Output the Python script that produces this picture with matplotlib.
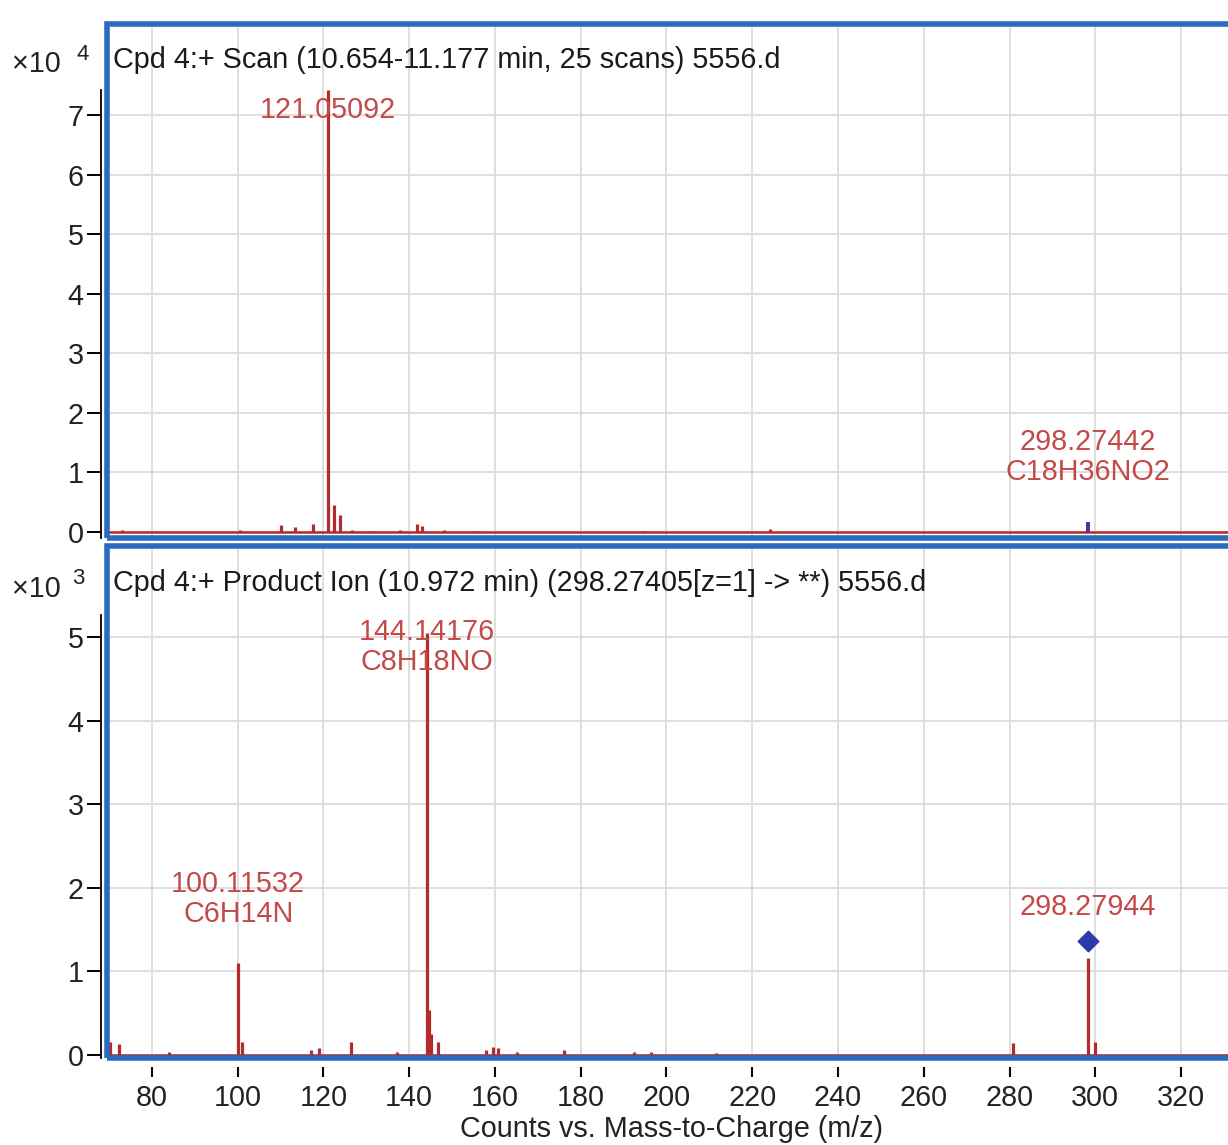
import matplotlib
matplotlib.use("Agg")
import matplotlib.pyplot as plt
from matplotlib.patches import Rectangle
from matplotlib.ticker import FixedLocator, FuncFormatter

plt.rcParams['font.family'] = ['Liberation Sans', 'DejaVu Sans']

# ---------------- data ----------------
# Top panel: MS scan (counts)
top_mz = [73.0, 100.5, 110.0, 113.3, 117.6, 121.05092, 122.4, 123.8, 126.6,
          131.6, 137.8, 141.7, 142.9, 148.2, 155.0, 194.5, 224.1]
top_int = [300, 300, 1100, 800, 1300, 74200, 4500, 2800, 400,
           200, 400, 1400, 1000, 300, 200, 150, 500]
top_prec_mz = [298.27442]
top_prec_int = [1700]

# Bottom panel: product ion scan (counts)
bot_mz = [70.3, 72.4, 83.9, 100.11532, 101.1, 117.0, 118.9, 126.4, 137.2,
          144.14176, 144.6, 145.0, 146.7, 158.0, 159.5, 160.6, 165.1, 176.1,
          192.5, 196.5, 211.6, 280.9, 298.27944, 300.0]
bot_int = [160, 130, 40, 1100, 160, 60, 80, 160, 30,
           5050, 540, 250, 150, 60, 100, 80, 30, 60,
           30, 30, 20, 140, 1160, 150]
diamond_mz = [298.27944]
diamond_int = [1360]

top_labels = [("121.05092", 121.05092, 70800), ("298.27442\nC18H36NO2", 298.27442, 12600)]
bot_labels = [("144.14176\nC8H18NO", 144.14176, 4880), ("100.11532\nC6H14N", 100.11532, 1870),
              ("298.27944", 298.27944, 1770)]

x_ticks = [80, 100, 120, 140, 160, 180, 200, 220, 240, 260, 280, 300, 320]
top_yticks = [0, 10000, 20000, 30000, 40000, 50000, 60000, 70000]
bot_yticks = [0, 1000, 2000, 3000, 4000, 5000]

titles = ["Cpd 4:+ Scan (10.654-11.177 min, 25 scans) 5556.d",
          "Cpd 4:+ Product Ion (10.972 min) (298.27405[z=1] -> **) 5556.d"]
xlabel = "Counts vs. Mass-to-Charge (m/z)"

# ---------------- style ----------------
W, H = 1228, 1145
RED = '#b52a2a'
LABEL = '#c24a48'
BLUE = '#2a6bbf'
GRID = '#dcdcdc'
FS = 20.7

fig = plt.figure(figsize=(W / 100, H / 100), dpi=100)
fig.patch.set_facecolor('white')

left = 106.5 / W
width = (1240 - 106.5) / W
ax1 = fig.add_axes([left, 1 - 537.5 / H, width, 514 / H])
ax2 = fig.add_axes([left, 1 - 1058 / H, width, 512.5 / H])

xlim = (69.39, 333.76)
ax1.set_ylim(-923, 85360)
ax2.set_ylim(-35.9, 6094)

for ax, yt, scale, bound_hi in [(ax1, top_yticks, 1e4, 74200), (ax2, bot_yticks, 1e3, 5260)]:
    ax.set_xlim(*xlim)
    for s in ['top', 'right']:
        ax.spines[s].set_visible(False)
    ax.spines['left'].set_position(('outward', 4))
    ax.spines['left'].set_color('black')
    ax.spines['left'].set_linewidth(1.3)
    ax.spines['left'].set_bounds(ax.get_ylim()[0], bound_hi)
    ax.yaxis.set_major_locator(FixedLocator(yt))
    ax.yaxis.set_major_formatter(FuncFormatter(lambda v, p, s=scale: f"{v / s:g}"))
    ax.xaxis.set_major_locator(FixedLocator(x_ticks))
    ax.tick_params(axis='y', direction='out', length=10, width=1.4, color='black',
                   pad=2.5, labelsize=FS, labelcolor='#222222')
    ax.grid(True, color=GRID, lw=1.3)
    ax.set_axisbelow(True)
    ax.axhline(0, color=RED, lw=1.8, zorder=2)
    ax.add_patch(Rectangle((0, 0), 1, 1, transform=ax.transAxes, fill=False,
                           ec=BLUE, lw=4, clip_on=False, zorder=6))

ax1.spines['bottom'].set_visible(False)
ax1.tick_params(axis='x', bottom=False, labelbottom=False)

ax2.spines['bottom'].set_position(('outward', 6.5))
ax2.spines['bottom'].set_color('none')
ax2.tick_params(axis='x', direction='out', length=7, width=1.5, color='black',
                pad=5.5, labelsize=FS, labelcolor='#222222')

# spectra
ax1.vlines(top_mz, 0, top_int, color=RED, lw=2.3, zorder=3)
ax1.vlines(top_prec_mz, 0, top_prec_int, color='#5a2a9a', lw=2.8, zorder=3)
ax2.vlines(bot_mz, 0, bot_int, color=RED, lw=2.3, zorder=3)
ax2.scatter(diamond_mz, diamond_int, marker='D', s=110, color='#2a3aa8', zorder=4)

for ax, labs in [(ax1, top_labels), (ax2, bot_labels)]:
    for txt, x, y in labs:
        ax.text(x, y, txt, color=LABEL, fontsize=FS, ha='center', va='center',
                linespacing=1.1, zorder=5)

# titles inside panels
ax1.text(0.0058, (537.5 - 60) / 514, titles[0], transform=ax1.transAxes,
         fontsize=FS, ha='left', va='center', color='#1a1a1a', zorder=7)
ax2.text(0.0058, (1058 - 583) / 512.5, titles[1], transform=ax2.transAxes,
         fontsize=FS, ha='left', va='center', color='#1a1a1a', zorder=7)

# scale factors
fig.text(61 / W, 1 - 64 / H, "×10", fontsize=FS, ha='right', va='center', color='#222222')
fig.text(83 / W, 1 - 55 / H, "4", fontsize=16, ha='center', va='center', color='#222222')
fig.text(61 / W, 1 - 589 / H, "×10", fontsize=FS, ha='right', va='center', color='#222222')
fig.text(78 / W, 1 - 578 / H, "3", fontsize=16, ha='center', va='center', color='#222222')

fig.text(671 / W, 1 - 1137 / H, xlabel, fontsize=FS, ha='center', va='baseline', color='#222222')

fig.savefig("out.png", dpi=100)
